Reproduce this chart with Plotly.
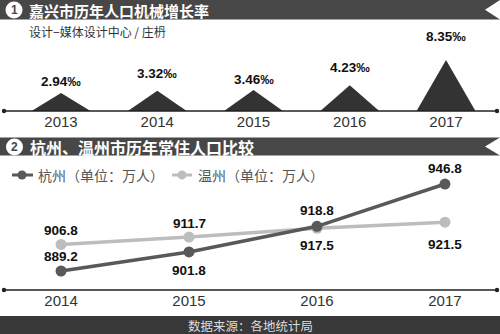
import plotly.graph_objects as go

W, H = 500, 334

# ---------------- data ----------------
growth_years = [2013, 2014, 2015, 2016, 2017]
growth_rates = [2.94, 3.32, 3.46, 4.23, 8.35]
growth_labels = ["2.94‰", "3.32‰", "3.46‰", "4.23‰", "8.35‰"]

pop_years = [2014, 2015, 2016, 2017]
hangzhou = [889.2, 901.8, 918.8, 946.8]
wenzhou = [906.8, 911.7, 917.5, 921.5]
series_names = ["杭州（单位：万人）", "温州（单位：万人）"]

title1 = "嘉兴市历年人口机械增长率"
title2 = "杭州、温州市历年常住人口比较"
credit = "设计−媒体设计中心 / 庄枬"
source = "数据来源：各地统计局"

# ---------------- style / layout ----------------
DARK = "#333333"
BANNER = "#474747"
HZ_COLOR = "#595959"
WZ_COLOR = "#bdbdbd"
NUM_FONT = "Liberation Sans, Arial, sans-serif"
CJK_FONT = "Noto Sans CJK SC, sans-serif"
LAT_FONT = "Liberation Sans, Arial, sans-serif"
NUM_SIZE = 13.5

growth_label_shift = [12, 17, 10, 18, 24]
hz_label_shift = [15, -19, 16, 16]
wz_label_shift = [14, 14, -17, -22]
tri_half = 0.306


def px(x):
    return x / W


def py(y):
    return 1 - y / H


fig = go.Figure()

# top chart: triangles
for yr, r in zip(growth_years, growth_rates):
    fig.add_trace(go.Scatter(
        x=[yr - tri_half, yr, yr + tri_half], y=[0, r, 0],
        mode="lines", fill="toself", fillcolor=DARK,
        line=dict(width=0, color=DARK), hoverinfo="skip",
        showlegend=False, xaxis="x", yaxis="y"))

# bottom chart: lines
fig.add_trace(go.Scatter(
    x=pop_years, y=wenzhou, mode="lines+markers", name=series_names[1],
    line=dict(color=WZ_COLOR, width=3.5), marker=dict(size=11, color=WZ_COLOR),
    showlegend=False, xaxis="x2", yaxis="y2"))
fig.add_trace(go.Scatter(
    x=pop_years, y=hangzhou, mode="lines+markers", name=series_names[0],
    line=dict(color=HZ_COLOR, width=3.5), marker=dict(size=11, color=HZ_COLOR),
    showlegend=False, xaxis="x2", yaxis="y2"))

num_font = dict(family=NUM_FONT, size=NUM_SIZE, color="#111")
annotations = []
for yr, r, lab, s in zip(growth_years, growth_rates, growth_labels, growth_label_shift):
    annotations.append(dict(x=yr, y=r, xref="x", yref="y", text="<b>%s</b>" % lab,
                            showarrow=False, yshift=s, yanchor="middle", font=num_font))
for yr, v, s in zip(pop_years, hangzhou, hz_label_shift):
    annotations.append(dict(x=yr, y=v, xref="x2", yref="y2", text="<b>%.1f</b>" % v,
                            showarrow=False, yshift=s, yanchor="middle", font=num_font))
for yr, v, s in zip(pop_years, wenzhou, wz_label_shift):
    annotations.append(dict(x=yr, y=v, xref="x2", yref="y2", text="<b>%.1f</b>" % v,
                            showarrow=False, yshift=s, yanchor="middle", font=num_font))

# banners text
annotations += [
    dict(x=px(28), y=py(10.9), xref="paper", yref="paper", text="<b>%s</b>" % title1,
         showarrow=False, xanchor="left", yanchor="middle", borderpad=0,
         font=dict(family=CJK_FONT, size=15, color="white")),
    dict(x=px(14), y=py(10), xref="paper", yref="paper", text="<b>1</b>",
         showarrow=False, xanchor="center", yanchor="middle",
         font=dict(family=LAT_FONT, size=12, color=BANNER)),
    dict(x=px(28), y=py(146.5), xref="paper", yref="paper", text="<b>%s</b>" % title2,
         showarrow=False, xanchor="left", yanchor="middle",
         font=dict(family=CJK_FONT, size=16, color="white")),
    dict(x=px(14.5), y=py(147), xref="paper", yref="paper", text="<b>2</b>",
         showarrow=False, xanchor="center", yanchor="middle",
         font=dict(family=LAT_FONT, size=12, color=BANNER)),
    dict(x=px(27), y=py(32), xref="paper", yref="paper", text=credit,
         showarrow=False, xanchor="left", yanchor="middle",
         font=dict(family=CJK_FONT, size=12, color="#333")),
    dict(x=px(250), y=py(325), xref="paper", yref="paper", text=source,
         showarrow=False, xanchor="center", yanchor="middle",
         font=dict(family=CJK_FONT, size=12.5, color="#dddddd")),
    dict(x=px(36), y=py(175), xref="paper", yref="paper", text=series_names[0],
         showarrow=False, xanchor="left", yanchor="middle",
         font=dict(family=CJK_FONT, size=14, color="#555")),
    dict(x=px(196), y=py(175), xref="paper", yref="paper", text=series_names[1],
         showarrow=False, xanchor="left", yanchor="middle",
         font=dict(family=CJK_FONT, size=14, color="#555")),
]


def circle(cx, cy, r, color):
    return dict(type="circle", xref="paper", yref="paper",
                x0=px(cx - r), x1=px(cx + r), y0=py(cy + r), y1=py(cy - r),
                fillcolor=color, line=dict(width=0), layer="above")


def banner(y0, y1):
    ym = (y0 + y1) / 2
    path = "M %f,%f L %f,%f L %f,%f L %f,%f L %f,%f Z" % (
        px(0), py(y0), px(500), py(y0), px(485), py(ym), px(500), py(y1), px(0), py(y1))
    return dict(type="path", xref="paper", yref="paper", path=path,
                fillcolor=BANNER, line=dict(width=0), layer="below")


shapes = [
    banner(0, 19.5),
    banner(137.5, 155.5),
    circle(14, 10, 8.5, "white"),
    circle(14.5, 147, 8.5, "white"),
    # footer
    dict(type="rect", xref="paper", yref="paper", x0=0, x1=1, y0=0, y1=py(316),
         fillcolor="#383838", line=dict(width=0), layer="below"),
    # axis lines
    dict(type="line", xref="paper", yref="paper", x0=px(4), x1=px(497), y0=py(111), y1=py(111),
         line=dict(color="#222", width=1.5)),
    dict(type="line", xref="paper", yref="paper", x0=px(4), x1=px(497), y0=py(290), y1=py(290),
         line=dict(color="#222", width=1.5)),
    circle(4, 111, 2.2, "#222"), circle(497, 111, 2.2, "#222"),
    circle(4, 290, 2.2, "#222"), circle(497, 290, 2.2, "#222"),
    # legend icons
    dict(type="line", xref="paper", yref="paper", x0=px(12), x1=px(33), y0=py(175), y1=py(175),
         line=dict(color=HZ_COLOR, width=3)),
    circle(22, 175, 4.5, HZ_COLOR),
    dict(type="line", xref="paper", yref="paper", x0=px(172), x1=px(192), y0=py(175), y1=py(175),
         line=dict(color=WZ_COLOR, width=3)),
    circle(182, 175, 4.5, WZ_COLOR),
]

axis_common = dict(showgrid=False, zeroline=False, showline=False, ticks="",
                   tickfont=dict(family=LAT_FONT, size=15, color="#333"))

fig.update_layout(
    width=W, height=H, margin=dict(l=0, r=0, t=0, b=0),
    paper_bgcolor="white", plot_bgcolor="rgba(0,0,0,0)",
    showlegend=False,
    xaxis=dict(domain=[0, 1], range=[2012.366, 2017.561], anchor="y",
               tickvals=growth_years, ticktext=[str(y) for y in growth_years], **axis_common),
    yaxis=dict(domain=[py(111), py(50)], range=[0, 10], visible=False),
    xaxis2=dict(domain=[0, 1], range=[2013.523, 2017.43], anchor="y2",
                tickvals=pop_years, ticktext=[str(y) for y in pop_years], **axis_common),
    yaxis2=dict(domain=[py(290), py(160)], range=[876.62, 962.71], visible=False),
    annotations=annotations, shapes=shapes,
)

fig.write_html("out.html")
